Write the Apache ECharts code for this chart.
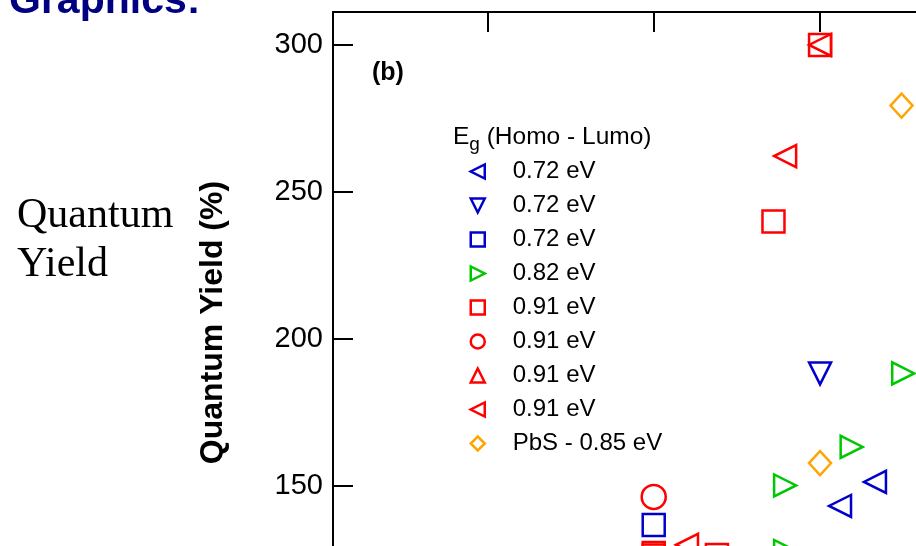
<!DOCTYPE html>
<html><head><meta charset="utf-8">
<script src="https://cdn.jsdelivr.net/npm/echarts@6/dist/echarts.min.js"></script>
<style>html,body{margin:0;padding:0;background:#fff}#c{width:916px;height:546px}</style>
</head><body><div id="c"></div>
<script>
// ---- data (x: photon energy / Eg, y: quantum yield %) ----
const seriesKeys = ['s1','s2','s3','s4','s5','s6','s7','s8','s9'];
const legendLabels = ['0.72 eV','0.72 eV','0.72 eV','0.82 eV','0.91 eV','0.91 eV','0.91 eV','0.91 eV','PbS - 0.85 eV'];
const blueLeftTri   = [[4.33,151.4],[4.12,143.2]];
const blueDownTri   = [[4.0,188.3]];
const blueSquare    = [[3.0,136.7]];
const greenRightTri = [[4.5,188.3],[4.19,163.3],[3.79,150.2],[3.79,127.9]];
const redSquare     = [[4.0,300],[3.72,240],[3.0,127.2],[3.0,126.4],[3.38,126.5]];
const redCircle     = [[3.0,146.3]];
const redUpTri      = [];
const redLeftTri    = [[4.0,300],[3.79,262.2],[3.2,130]];
const pbsDiamond    = [[4.49,279.4],[4.0,157.8]];
const yTickLabels   = [150,200,250,300];

const FONT = "'Liberation Sans', Arial, sans-serif";
const BLUE = '#0000CC', GREEN = '#00C800', RED = '#FF0000', ORANGE = '#FFA500';
const SYM = {
  left:  'path://M10,0 L10,10 L0,5 Z',
  right: 'path://M0,0 L0,10 L10,5 Z',
  down:  'path://M0,0 L10,0 L5,10 Z',
  up:    'path://M5,0 L10,10 L0,10 Z',
  rect:  'path://M0,0 L10,0 L10,10 L0,10 Z',
  circle:'circle',
  diamond:'path://M5,0 L10,5 L5,10 L0,5 Z'
};
const labelMap = {};
seriesKeys.forEach((k,i)=>labelMap[k]=legendLabels[i]);

function sc(key, data, sym, color, size){
  return {
    name: key, type: 'scatter', data: data, symbol: SYM[sym], symbolSize: size || 22,
    symbolKeepAspect: false, silent: true,
    itemStyle: {color: 'rgba(0,0,0,0)', borderColor: color, borderWidth: 2.5, opacity: 1},
    emphasis: {disabled: true}, z: 5
  };
}
const axisCommon = {
  type: 'value', splitLine: {show: false},
  axisLine: {show: true, onZero: false, lineStyle: {color: '#000', width: 2}},
  axisTick: {show: true, inside: true, length: 20, lineStyle: {color: '#000', width: 2}}
};
const chart = echarts.init(document.getElementById('c'), null, {renderer: 'canvas'});
chart.setOption({
  animation: false,
  backgroundColor: '#fff',
  textStyle: {fontFamily: FONT},
  title: [
    {text: 'Graphics:', left: 9, top: -18, padding: 0,
     textStyle: {fontFamily: FONT, fontWeight: 'bold', fontSize: 41, lineHeight: 40, color: '#000080'}},
    {text: 'Quantum\nYield', left: 17, top: 191, padding: 0,
     textStyle: {fontFamily: "'Liberation Serif', 'Times New Roman', serif", fontWeight: 'normal', fontSize: 42, lineHeight: 49, color: '#000'}},
    {text: '(b)', left: 372, top: 61, padding: 0,
     textStyle: {fontFamily: FONT, fontWeight: 'bold', fontSize: 25, lineHeight: 25, color: '#000'}},
    {text: '{a|E}{s|g}{a| (Homo - Lumo)}', left: 453, top: 122, padding: 0,
     textStyle: {fontWeight: 'normal', rich: {
       a: {fontFamily: FONT, fontWeight: 'normal', fontSize: 24.5, lineHeight: 30, color: '#000'},
       s: {fontFamily: FONT, fontWeight: 'normal', fontSize: 19, lineHeight: 19, padding: [15,0,0,0], color: '#000'}
     }}}
  ],
  legend: {
    orient: 'vertical', left: 469.5, top: 159.5, padding: 0,
    itemWidth: 14, itemHeight: 14, itemGap: 10, selectedMode: false,
    data: seriesKeys,
    formatter: name => labelMap[name],
    itemStyle: {borderWidth: 2.5, opacity: 1},
    textStyle: {fontFamily: FONT, fontSize: 24, lineHeight: 24, color: '#000', padding: [0,0,0,23]}
  },
  grid: {left: 333, top: 12, right: -70.4, bottom: -87, containLabel: false, outerBoundsMode: 'none'},
  xAxis: [
    Object.assign({}, axisCommon, {position: 'bottom', min: 1.072, max: 5, minInterval: 1, maxInterval: 1,
      axisLabel: {show: true, fontSize: 29, color: '#000', fontFamily: FONT}}),
    Object.assign({}, axisCommon, {position: 'top', min: 1.072, max: 5, minInterval: 1, maxInterval: 1,
      axisLabel: {show: false}})
  ],
  yAxis: [
    Object.assign({}, axisCommon, {position: 'left', min: 100, max: 311.22, minInterval: 50, maxInterval: 50,
      name: 'Quantum Yield (%)', nameLocation: 'middle', nameGap: 104,
      nameTextStyle: {fontFamily: FONT, fontWeight: 'bold', fontSize: 32, color: '#000'},
      axisLabel: {show: true, fontSize: 29, color: '#000', fontFamily: FONT, margin: 10,
        formatter: v => (yTickLabels.indexOf(Math.round(v)) >= 0 && Math.abs(v - Math.round(v)) < 1e-6) ? String(Math.round(v)) : ''}})
  ],
  series: [
    sc('s1', blueLeftTri, 'left', BLUE),
    sc('s2', blueDownTri, 'down', BLUE),
    sc('s3', blueSquare, 'rect', BLUE),
    sc('s4', greenRightTri, 'right', GREEN),
    sc('s5', redSquare, 'rect', RED),
    sc('s6', redCircle, 'circle', RED, 24),
    sc('s7', redUpTri, 'up', RED),
    sc('s8', redLeftTri, 'left', RED),
    sc('s9', pbsDiamond, 'diamond', ORANGE, [22,24])
  ]
});
</script></body></html>
